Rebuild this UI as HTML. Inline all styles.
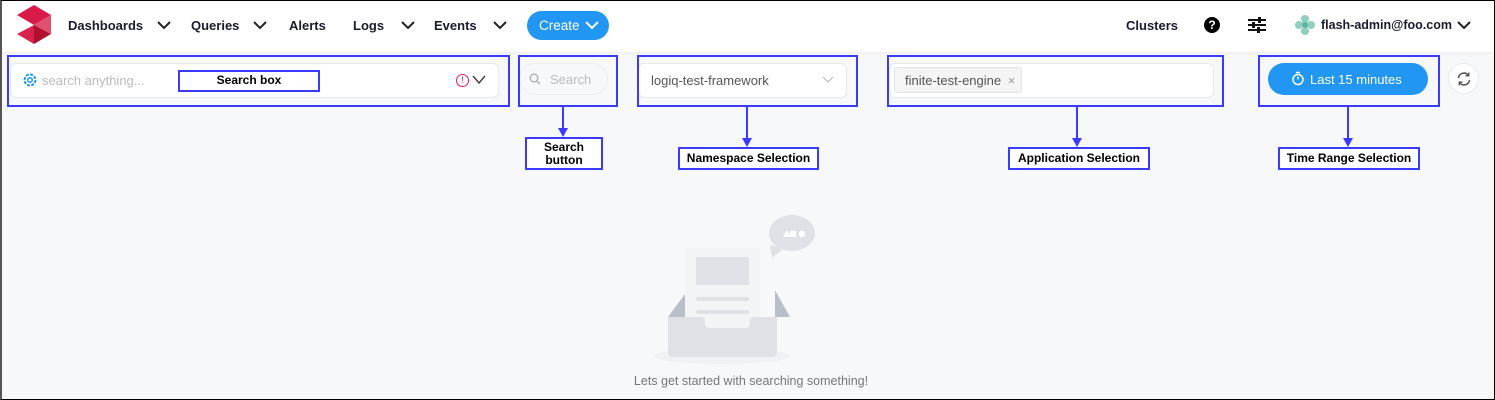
<!DOCTYPE html>
<html><head><meta charset="utf-8"><style>
*{box-sizing:border-box;margin:0;padding:0}
body{width:1495px;height:400px;position:relative;overflow:hidden;background:#f7f8fa;font-family:"Liberation Sans",Arial,sans-serif}
.a{position:absolute}
.frame{left:0;top:0;width:1495px;height:400px;border:1px solid #000;border-left:2px solid #555}
.hdr{left:0;top:0;width:1495px;height:52px;background:#fff;box-shadow:0 1px 3px rgba(0,0,0,.05)}
.nav{font-size:13px;font-weight:bold;color:#1a1a2e;top:18px}
.bx{border:2px solid #3b3bff}
.lbl{border:2px solid #3b3bff;background:#fff;font-size:12px;font-weight:bold;color:#000;text-align:center;line-height:17px}
.inp{background:#fff;border:1px solid #e6e8eb;border-radius:6px}
.vline{width:2px;background:#3b3bff}
.ah{width:0;height:0;border-left:5px solid transparent;border-right:5px solid transparent;border-top:9px solid #3b3bff}
</style></head><body>
<div class="a hdr"></div>
<svg class="a" style="left:16px;top:4px" width="38" height="40" viewBox="0 0 38 40">
<polygon points="1,11 18,1 35,11 18,21" fill="#d81b4a"/>
<polygon points="18,21 35,11 35,30" fill="#e2506f"/>
<polygon points="1,30 18,21 18,40" fill="#d8224e"/>
<polygon points="18,21 35,30 18,40" fill="#b0102e"/>
</svg>
<div class="a nav" style="left:68px">Dashboards</div>
<svg class="a" style="left:157px;top:20px" width="14" height="10"><polyline points="1,2 7,8 13,2" fill="none" stroke="#222" stroke-width="2"/></svg>
<div class="a nav" style="left:191px">Queries</div>
<svg class="a" style="left:253px;top:20px" width="14" height="10"><polyline points="1,2 7,8 13,2" fill="none" stroke="#222" stroke-width="2"/></svg>
<div class="a nav" style="left:289px">Alerts</div>
<div class="a nav" style="left:353px">Logs</div>
<svg class="a" style="left:401px;top:20px" width="14" height="10"><polyline points="1,2 7,8 13,2" fill="none" stroke="#222" stroke-width="2"/></svg>
<div class="a nav" style="left:434px">Events</div>
<svg class="a" style="left:493px;top:20px" width="14" height="10"><polyline points="1,2 7,8 13,2" fill="none" stroke="#222" stroke-width="2"/></svg>
<div class="a" style="left:527px;top:11px;width:82px;height:29px;border-radius:15px;background:#2196f3;color:#fff;font-size:13.5px;line-height:29px;padding-left:12px">Create</div>
<svg class="a" style="left:585px;top:20px" width="14" height="10"><polyline points="1,2 7,8 13,2" fill="none" stroke="#fff" stroke-width="2"/></svg>
<div class="a nav" style="left:1126px">Clusters</div>
<div class="a" style="left:1204px;top:17px;width:16px;height:16px;border-radius:50%;background:#000;color:#fff;font-size:12px;font-weight:bold;text-align:center;line-height:16px">?</div>
<svg class="a" style="left:1248px;top:17px" width="18" height="16"><g stroke="#111" stroke-width="2"><line x1="0" y1="3" x2="18" y2="3"/><line x1="0" y1="8" x2="18" y2="8"/><line x1="0" y1="13" x2="18" y2="13"/></g><g fill="#111"><rect x="10" y="0" width="3" height="6"/><rect x="4" y="5" width="3" height="6"/><rect x="9" y="10" width="3" height="6"/></g></svg>
<svg class="a" style="left:1295px;top:15px" width="20" height="20"><g fill="#8fd0c0"><circle cx="10" cy="4" r="4"/><circle cx="10" cy="16" r="4"/><circle cx="4" cy="10" r="4"/><circle cx="16" cy="10" r="4"/></g><circle cx="10" cy="10" r="3" fill="#5fb5a0"/></svg>
<div class="a nav" style="left:1321px;font-size:12.5px">flash-admin@foo.com</div>
<svg class="a" style="left:1457px;top:20px" width="14" height="10"><polyline points="1,2 7,8 13,2" fill="none" stroke="#222" stroke-width="2"/></svg>

<!-- search box -->
<div class="a inp" style="left:10px;top:63px;width:489px;height:35px"></div>
<svg class="a" style="left:22px;top:72px" width="16" height="16" viewBox="0 0 16 16"><circle cx="8" cy="8" r="5.5" fill="none" stroke="#2196f3" stroke-width="2" stroke-dasharray="3 1.3"/><circle cx="8" cy="8" r="2.2" fill="none" stroke="#2196f3" stroke-width="1.5"/></svg>
<div class="a" style="left:42px;top:73px;font-size:13px;color:#bbb">search anything...</div>
<div class="a" style="left:456px;top:74px;width:13px;height:13px;border:1.5px solid #e91e63;border-radius:50%;color:#e91e63;font-size:9px;text-align:center;line-height:10px">!</div>
<svg class="a" style="left:472px;top:75px" width="14" height="10"><polyline points="1,1 7,8 13,1" fill="none" stroke="#444" stroke-width="1.5"/></svg>
<div class="a bx" style="left:7px;top:55px;width:503px;height:52px"></div>
<div class="a lbl" style="left:178px;top:70px;width:142px;height:22px">Search box</div>

<!-- search button -->
<div class="a" style="left:519px;top:63px;width:89px;height:32px;border:1px solid #eceef0;border-radius:16px;background:#f7f8fa"></div>
<svg class="a" style="left:529px;top:73px" width="12" height="12"><circle cx="5" cy="5" r="3.8" fill="none" stroke="#aaa" stroke-width="1.3"/><line x1="8" y1="8" x2="11" y2="11" stroke="#aaa" stroke-width="1.3"/></svg>
<div class="a" style="left:550px;top:72px;font-size:13px;color:#bbb">Search</div>
<div class="a bx" style="left:518px;top:55px;width:100px;height:52px"></div>
<div class="a vline" style="left:562px;top:107px;height:22px"></div>
<div class="a ah" style="left:558px;top:128px"></div>
<div class="a lbl" style="left:525px;top:137px;width:78px;height:33px;line-height:13px;padding-top:2px">Search<br>button</div>

<!-- namespace -->
<div class="a inp" style="left:638px;top:63px;width:209px;height:35px"></div>
<div class="a" style="left:651px;top:73px;font-size:13px;color:#555">logiq-test-framework</div>
<svg class="a" style="left:822px;top:76px" width="12" height="8"><polyline points="1,1 6,6 11,1" fill="none" stroke="#bbb" stroke-width="1.2"/></svg>
<div class="a bx" style="left:637px;top:55px;width:221px;height:52px"></div>
<div class="a vline" style="left:746px;top:107px;height:32px"></div>
<div class="a ah" style="left:742px;top:138px"></div>
<div class="a lbl" style="left:678px;top:147px;width:141px;height:23px;line-height:19px">Namespace Selection</div>

<!-- application -->
<div class="a inp" style="left:889px;top:63px;width:325px;height:35px"></div>
<div class="a" style="left:894px;top:67px;width:128px;height:26px;background:#f5f5f5;border:1px solid #e3e3e3;border-radius:3px"></div>
<div class="a" style="left:905px;top:73px;font-size:13px;color:#555">finite-test-engine <span style="color:#999;margin-left:3px">×</span></div>
<div class="a bx" style="left:887px;top:55px;width:337px;height:52px"></div>
<div class="a vline" style="left:1076px;top:107px;height:32px"></div>
<div class="a ah" style="left:1072px;top:138px"></div>
<div class="a lbl" style="left:1008px;top:147px;width:142px;height:23px;line-height:19px">Application Selection</div>

<!-- time range -->
<div class="a" style="left:1268px;top:63px;width:160px;height:32px;border-radius:16px;background:#2196f3"></div>
<svg class="a" style="left:1291px;top:71px" width="14" height="15"><circle cx="7" cy="8.5" r="5" fill="none" stroke="#fff" stroke-width="1.5"/><line x1="5" y1="1.5" x2="9" y2="1.5" stroke="#fff" stroke-width="1.5"/><line x1="7" y1="8.5" x2="7" y2="5.5" stroke="#fff" stroke-width="1.3"/></svg>
<div class="a" style="left:1310px;top:72px;font-size:13px;color:#fff">Last 15 minutes</div>
<div class="a bx" style="left:1258px;top:55px;width:182px;height:52px"></div>
<div class="a vline" style="left:1347px;top:107px;height:32px"></div>
<div class="a ah" style="left:1343px;top:138px"></div>
<div class="a lbl" style="left:1278px;top:147px;width:142px;height:23px;line-height:19px">Time Range Selection</div>

<div class="a" style="left:1448px;top:63px;width:31px;height:31px;border-radius:50%;background:#fff;border:1px solid #e6e8eb"></div>
<svg class="a" style="left:1456px;top:71px" width="16" height="16" viewBox="0 0 16 16"><path d="M2.5 7A5.5 5.5 0 0 1 12.5 4.5M13.5 9A5.5 5.5 0 0 1 3.5 11.5" fill="none" stroke="#555" stroke-width="1.5"/><polyline points="12.8,1.5 12.8,4.8 9.5,4.8" fill="none" stroke="#555" stroke-width="1.3"/><polyline points="3.2,14.5 3.2,11.2 6.5,11.2" fill="none" stroke="#555" stroke-width="1.3"/></svg>

<!-- illustration -->
<svg class="a" style="left:650px;top:210px" width="180" height="160">
<ellipse cx="72" cy="146" rx="68" ry="8" fill="#f0f1f4"/>
<path d="M120 35 L122 48 L134 38 Z" fill="#dfe1e6"/>
<ellipse cx="142" cy="23" rx="23" ry="18" fill="#dfe1e6"/>
<polygon points="133,27 137,20 141,27" fill="#fff"/><rect x="140" y="21" width="6" height="6" fill="#fff"/><circle cx="152" cy="24" r="3.2" fill="#fff"/>
<polygon points="18,107 38,80 38,107" fill="#b8bfc8"/>
<polygon points="125,80 140,107 125,107" fill="#b8bfc8"/>
<rect x="35" y="38" width="75" height="90" rx="3" fill="#f3f4f6"/>
<rect x="46" y="47" width="53" height="28" fill="#dfe1e6"/>
<rect x="46" y="87" width="53" height="4" rx="2" fill="#dfe1e6"/>
<rect x="46" y="100" width="53" height="4" rx="2" fill="#dfe1e6"/>
<path d="M18 107 H52 a3 3 0 0 1 3 3 v4 a4 4 0 0 0 4 4 H96 a4 4 0 0 0 4 -4 v-4 a3 3 0 0 1 3 -3 H127 V143 a4 4 0 0 1 -4 4 H22 a4 4 0 0 1 -4 -4 Z" fill="#dfe1e6"/>
</svg>
<div class="a" style="left:590px;top:374px;width:322px;text-align:center;font-size:12.5px;color:#777">Lets get started with searching something!</div>

<div class="a frame"></div>
</body></html>
